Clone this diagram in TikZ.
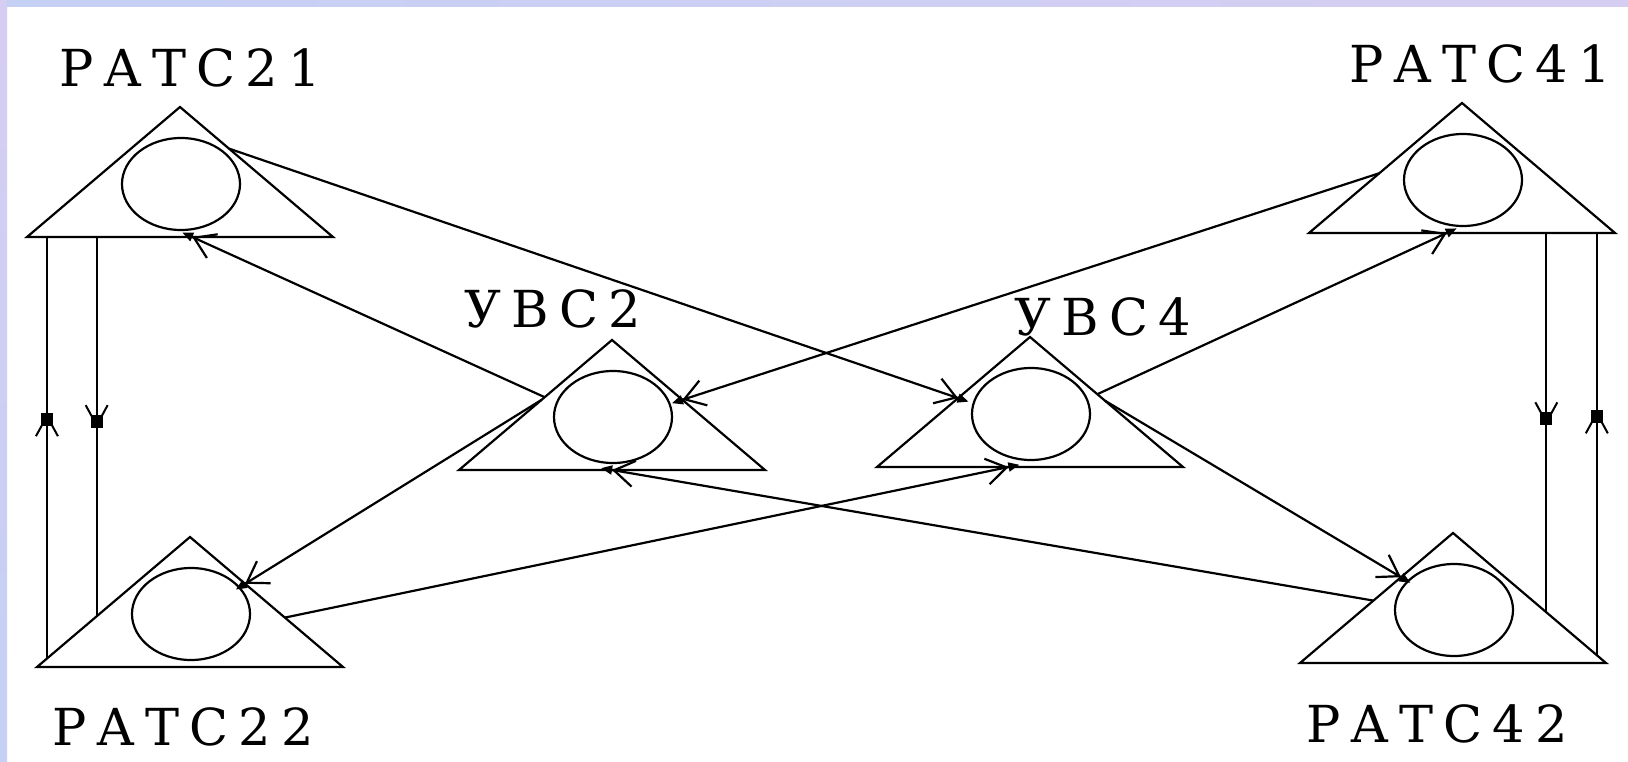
\documentclass[tikz,border=0pt]{standalone}
\usepackage{fontspec}
\newfontfamily\lblfont[LetterSpace=20]{DejaVu Serif}
\usetikzlibrary{arrows.meta,shapes.geometric,calc,decorations.markings}
\definecolor{edgeblue}{RGB}{196,208,244}
\definecolor{edgelav}{RGB}{214,206,242}
\newcommand\midtip{%
  \fill (-13pt,-6pt) rectangle (0pt,6pt);
  \draw[line width=2pt] (-23pt,11pt) -- (-12pt,5pt);
  \draw[line width=2pt] (-23pt,-11pt) -- (-12pt,-5pt);}
\newcommand\mystation[3]{%
  \coordinate (#1-a) at (#2,#3);
  \coordinate (#1-l) at ($(#1-a)+(-153,130)$);
  \coordinate (#1-r) at ($(#1-a)+(153,130)$);
  \draw[line join=miter] (#1-l) -- (#1-a) -- (#1-r) -- cycle;
  \node[stationoval] (#1) at ($(#1-a)+(1,77)$) {};}
\begin{document}
\begin{tikzpicture}[x=1pt,y=-1pt,line width=2.2pt,
  stationoval/.style={ellipse,draw,minimum width=118pt,minimum height=92pt,inner sep=0pt},
  lbl/.style={anchor=base,inner sep=0pt,font=\lblfont\fontsize{51}{51}\selectfont},
  link/.style={-{Straight Barb[length=20pt,width=26pt] Triangle[length=11pt,width=9pt,sep=-11pt]}},
  midarrow/.style={postaction={decorate,decoration={markings,mark=at position #1 with {\midtip}}}}]
\useasboundingbox (0,0) rectangle (1628,762);
\fill[white] (0,0) rectangle (1628,762);
\shade[left color=edgeblue,right color=edgelav] (0,0) rectangle (1628,7);
\shade[top color=edgelav,bottom color=edgeblue] (0,0) rectangle (7,762);

\mystation{r21}{180}{107}
\mystation{r22}{190}{537}
\mystation{u2}{612}{340}
\mystation{u4}{1030}{337}
\mystation{r41}{1462}{103}
\mystation{r42}{1453}{533}

\node[lbl] (t21) at (190,87) {РАТС21};
\node[lbl] (t22) at (183,745) {РАТС22};
\node[lbl] (t41) at (1480,83) {РАТС41};
\node[lbl] (t42) at (1437,742) {РАТС42};
\node[lbl] (tu2) at (553,327) {УВС2};
\node[lbl] (tu4) at (1103,335) {УВС4};

% diagonal links
\draw[link] ($(r21-a)!0.32!(r21-r)$) -- ($(u4-a)!0.47!(u4-l)$);
\draw[link] ($(u2-a)!0.44!(u2-l)$) -- ($(r21-l)!0.54!(r21-r)$);
\draw[link] ($(r41-a)!0.54!(r41-l)$) -- ($(u2-a)!0.46!(u2-r)$);
\draw[link] ($(u4-a)!0.44!(u4-r)$) -- ($(r41-l)!0.45!(r41-r)$);
\draw[link] ($(u2-a)!0.46!(u2-l)$) -- ($(r22-a)!0.36!(r22-r)$);
\draw[link] ($(r22-a)!0.62!(r22-r)$) -- ($(u4-l)!0.43!(u4-r)$);
\draw[link] ($(u4-a)!0.49!(u4-r)$) -- ($(r42-a)!0.34!(r42-l)$);
\draw[link] ($(r42-a)!0.52!(r42-l)$) -- ($(u2-l)!0.5!(u2-r)$);

% vertical links
\coordinate (v1) at ($(r22-l)!0.065!(r22-a)$);
\coordinate (v2) at ($(r22-l)!0.39!(r22-a)$);
\coordinate (v3) at ($(r42-a)!0.61!(r42-r)$);
\coordinate (v4) at ($(r42-a)!0.94!(r42-r)$);
\draw[midarrow=0.582] (v1) -- (v1 |- r21-l);
\draw[midarrow=0.504] (v2 |- r21-l) -- (v2);
\draw[midarrow=0.507] (v3 |- r41-l) -- (v3);
\draw[midarrow=0.58] (v4) -- (v4 |- r41-l);
\end{tikzpicture}
\end{document}
